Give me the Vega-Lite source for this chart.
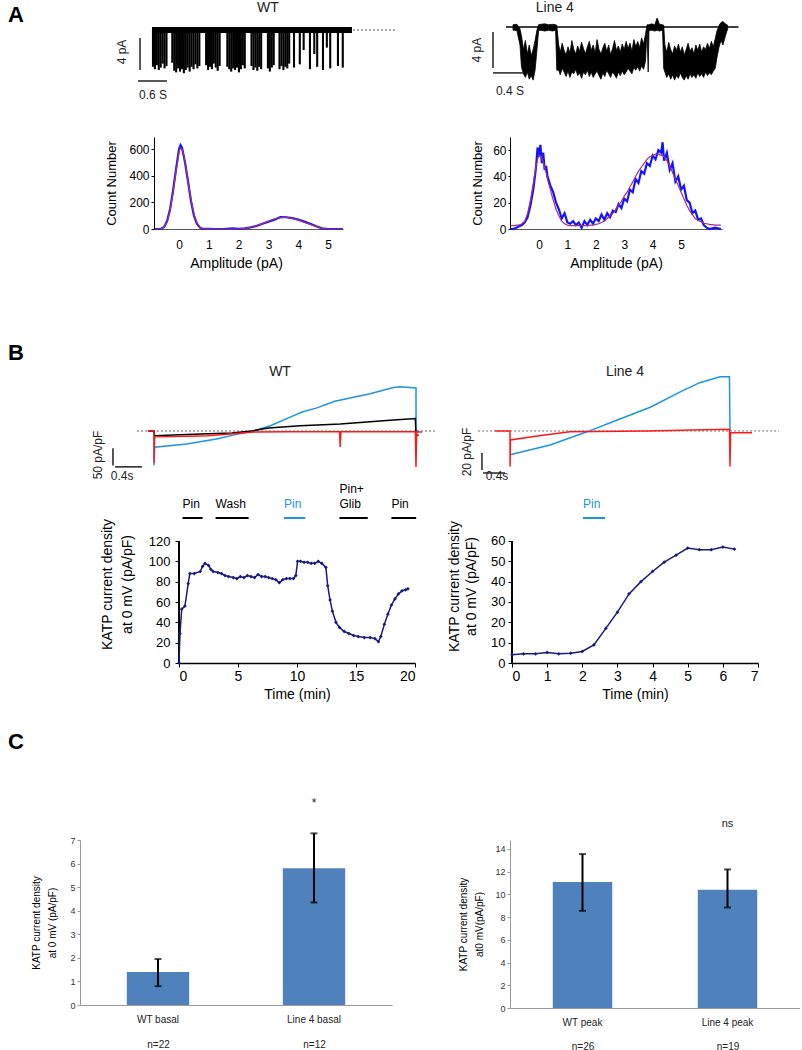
{
"$schema": "https://vega.github.io/schema/vega-lite/v6.json",
"padding": 0,
"background": "white",
"config": {
  "font": "Liberation Sans",
  "view": {"stroke": null},
  "axis": {"grid": false, "labelOverlap": false, "titleFontWeight": "normal", "labelColor": "#000", "titleColor": "#000", "domainColor": "#000", "tickColor": "#000"}
},
"datasets": {
  "aWtEvents": [
    {"t":0.02,"i":-4.6},{"t":0.06,"i":-4.9},{"t":0.10,"i":-4.4},{"t":0.14,"i":-5.0},{"t":0.18,"i":-4.7},{"t":0.22,"i":-4.2},{"t":0.26,"i":-4.8},{"t":0.30,"i":-4.5},
    {"t":0.42,"i":-4.1},{"t":0.46,"i":-5.1},{"t":0.50,"i":-5.3},{"t":0.54,"i":-4.8},{"t":0.58,"i":-5.2},{"t":0.62,"i":-4.9},{"t":0.66,"i":-5.4},{"t":0.70,"i":-5.0},{"t":0.74,"i":-4.7},{"t":0.78,"i":-5.2},{"t":0.82,"i":-4.6},{"t":0.86,"i":-4.9},{"t":0.90,"i":-4.3},{"t":0.94,"i":-4.8},{"t":0.98,"i":-4.5},
    {"t":1.12,"i":-4.4},{"t":1.16,"i":-5.0},{"t":1.20,"i":-4.6},{"t":1.24,"i":-4.9},{"t":1.28,"i":-4.2},{"t":1.32,"i":-4.7},{"t":1.36,"i":-5.1},{"t":1.40,"i":-4.5},
    {"t":1.56,"i":-4.6},{"t":1.60,"i":-4.9},{"t":1.64,"i":-5.2},{"t":1.68,"i":-4.8},{"t":1.72,"i":-5.0},{"t":1.76,"i":-4.7},{"t":1.80,"i":-5.3},{"t":1.84,"i":-4.9},{"t":1.88,"i":-4.4},{"t":1.92,"i":-4.8},
    {"t":2.06,"i":-4.5},{"t":2.10,"i":-5.0},{"t":2.14,"i":-4.7},{"t":2.18,"i":-5.1},{"t":2.22,"i":-4.6},{"t":2.26,"i":-4.9},
    {"t":2.40,"i":-4.8},{"t":2.44,"i":-5.2},{"t":2.48,"i":-4.7},{"t":2.52,"i":-4.4},
    {"t":2.64,"i":-4.9},{"t":2.68,"i":-4.5},{"t":2.72,"i":-5.0},{"t":2.76,"i":-4.6},{"t":2.80,"i":-4.8},{"t":2.84,"i":-4.2},
    {"t":2.94,"i":-4.7},{"t":3.06,"i":-4.3},{"t":3.14,"i":-2.5},{"t":3.27,"i":-4.9},{"t":3.36,"i":-3.0},{"t":3.42,"i":-4.6},{"t":3.54,"i":-5.0},{"t":3.62,"i":-2.2},{"t":3.69,"i":-4.8},{"t":3.85,"i":-4.5},{"t":3.95,"i":-4.7}
  ],
  "aL4Trace": [
    {"t":0.09,"top":0.25,"bot":-0.35},{"t":0.14,"top":0.3,"bot":-0.4},{"t":0.18,"top":-0.2,"bot":-2.0},
    {"t":0.20,"top":-1.0,"bot":-4.5},{"t":0.225,"top":-2.5,"bot":-5.2},{"t":0.25,"top":-1.5,"bot":-5.6},{"t":0.275,"top":-3.0,"bot":-5.0},{"t":0.30,"top":-2.0,"bot":-5.8},{"t":0.325,"top":-3.2,"bot":-5.4},{"t":0.35,"top":-2.5,"bot":-5.9},{"t":0.375,"top":-1.5,"bot":-4.8},{"t":0.40,"top":-0.3,"bot":-2.5},
    {"t":0.42,"top":0.25,"bot":-0.4},{"t":0.45,"top":0.3,"bot":-0.35},{"t":0.50,"top":0.35,"bot":-0.45},{"t":0.55,"top":0.25,"bot":-0.35},{"t":0.60,"top":0.3,"bot":-0.45},{"t":0.64,"top":0.25,"bot":-0.35},
    {"t":0.655,"top":0.2,"bot":-4.8},{"t":0.68,"top":-2.0,"bot":-4.8},{"t":0.70,"top":-2.8,"bot":-5.3},{"t":0.725,"top":-1.8,"bot":-4.6},{"t":0.75,"top":-2.6,"bot":-5.0},{"t":0.775,"top":-3.1,"bot":-5.5},{"t":0.80,"top":-2.2,"bot":-4.9},{"t":0.825,"top":-2.9,"bot":-5.6},{"t":0.85,"top":-1.5,"bot":-5.0},{"t":0.875,"top":-2.5,"bot":-5.2},{"t":0.90,"top":-3.0,"bot":-4.7},{"t":0.925,"top":-2.1,"bot":-5.4},{"t":0.95,"top":-2.7,"bot":-5.1},{"t":0.975,"top":-1.7,"bot":-5.7},{"t":1.00,"top":-2.4,"bot":-5.0},{"t":1.025,"top":-3.0,"bot":-5.3},{"t":1.05,"top":-2.2,"bot":-4.8},{"t":1.075,"top":-1.6,"bot":-5.5},{"t":1.10,"top":-2.6,"bot":-5.0},{"t":1.125,"top":-2.0,"bot":-5.6},{"t":1.15,"top":-2.9,"bot":-5.2},{"t":1.175,"top":-1.4,"bot":-4.9},{"t":1.20,"top":-2.5,"bot":-5.4},{"t":1.225,"top":-3.0,"bot":-5.8},{"t":1.25,"top":-2.3,"bot":-5.1},{"t":1.275,"top":-1.8,"bot":-5.5},{"t":1.30,"top":-2.7,"bot":-4.8},{"t":1.325,"top":-2.0,"bot":-5.2},{"t":1.35,"top":-3.1,"bot":-5.6},{"t":1.375,"top":-2.4,"bot":-5.0},{"t":1.40,"top":-1.5,"bot":-5.3},{"t":1.425,"top":-2.6,"bot":-5.7},{"t":1.45,"top":-2.1,"bot":-5.0},{"t":1.475,"top":-2.8,"bot":-5.4},{"t":1.50,"top":-1.9,"bot":-4.9},{"t":1.525,"top":-2.5,"bot":-5.3},{"t":1.55,"top":-1.6,"bot":-5.0},{"t":1.575,"top":-2.4,"bot":-4.6},{"t":1.60,"top":-1.8,"bot":-4.9},{"t":1.625,"top":-2.7,"bot":-5.2},{"t":1.65,"top":-1.4,"bot":-4.5},{"t":1.675,"top":-2.2,"bot":-4.8},{"t":1.70,"top":-1.6,"bot":-4.4},{"t":1.725,"top":-2.3,"bot":-4.9},{"t":1.75,"top":-1.2,"bot":-4.3},{"t":1.775,"top":-1.9,"bot":-4.7},{"t":1.80,"top":-0.8,"bot":-3.8},
    {"t":1.82,"top":0.25,"bot":-0.4},{"t":1.835,"top":0.25,"bot":-5.0},{"t":1.845,"top":0.25,"bot":-0.4},{"t":1.88,"top":0.35,"bot":-0.35},{"t":1.92,"top":0.25,"bot":-0.45},{"t":1.95,"top":1.0,"bot":-0.35},{"t":1.98,"top":0.3,"bot":-0.45},{"t":2.02,"top":0.25,"bot":-0.35},
    {"t":2.035,"top":0.2,"bot":-4.6},{"t":2.05,"top":-2.0,"bot":-5.0},{"t":2.075,"top":-2.8,"bot":-5.6},{"t":2.10,"top":-1.7,"bot":-5.2},{"t":2.125,"top":-2.5,"bot":-5.8},{"t":2.15,"top":-3.0,"bot":-5.3},{"t":2.175,"top":-2.1,"bot":-5.9},{"t":2.20,"top":-2.6,"bot":-5.4},{"t":2.225,"top":-1.9,"bot":-5.7},{"t":2.25,"top":-2.8,"bot":-5.1},{"t":2.275,"top":-2.2,"bot":-5.6},{"t":2.30,"top":-3.1,"bot":-5.9},{"t":2.325,"top":-2.5,"bot":-5.4},{"t":2.35,"top":-1.8,"bot":-5.8},{"t":2.375,"top":-2.7,"bot":-5.2},{"t":2.40,"top":-2.3,"bot":-5.6},{"t":2.425,"top":-3.0,"bot":-5.3},{"t":2.45,"top":-2.0,"bot":-5.7},{"t":2.475,"top":-2.6,"bot":-5.1},{"t":2.50,"top":-1.9,"bot":-5.5},{"t":2.525,"top":-2.8,"bot":-5.2},{"t":2.55,"top":-2.2,"bot":-5.6},{"t":2.575,"top":-2.5,"bot":-5.0},{"t":2.60,"top":-1.8,"bot":-5.4},{"t":2.625,"top":-2.4,"bot":-5.1},{"t":2.65,"top":-1.6,"bot":-5.3},{"t":2.675,"top":-2.2,"bot":-4.9},{"t":2.70,"top":-1.3,"bot":-4.6},{"t":2.72,"top":-0.5,"bot":-3.5},{"t":2.75,"top":0.2,"bot":-2.2},{"t":2.775,"top":0.5,"bot":-1.5},{"t":2.80,"top":0.6,"bot":-2.0},{"t":2.825,"top":0.4,"bot":-1.2},{"t":2.85,"top":0.25,"bot":-0.45},{"t":2.86,"top":0.2,"bot":-0.3}
  ],
  "aWtHist": [
    {"amp":-0.8,"count":0,"fit":0},{"amp":-0.6,"count":2,"fit":2},{"amp":-0.5,"count":15,"fit":12},{"amp":-0.4,"count":60,"fit":55},{"amp":-0.3,"count":150,"fit":140},{"amp":-0.2,"count":290,"fit":280},{"amp":-0.1,"count":450,"fit":440},{"amp":0.0,"count":600,"fit":580},{"amp":0.05,"count":630,"fit":610},{"amp":0.1,"count":610,"fit":600},{"amp":0.2,"count":500,"fit":510},{"amp":0.3,"count":360,"fit":360},{"amp":0.4,"count":210,"fit":220},{"amp":0.5,"count":100,"fit":110},{"amp":0.6,"count":40,"fit":45},{"amp":0.7,"count":10,"fit":12},{"amp":0.8,"count":2,"fit":3},{"amp":1.0,"count":2,"fit":0},{"amp":1.2,"count":0,"fit":0},{"amp":1.5,"count":0,"fit":0},{"amp":1.8,"count":5,"fit":0},{"amp":2.0,"count":2,"fit":2},{"amp":2.2,"count":5,"fit":5},{"amp":2.4,"count":12,"fit":12},{"amp":2.6,"count":22,"fit":25},{"amp":2.8,"count":40,"fit":40},{"amp":3.0,"count":55,"fit":58},{"amp":3.2,"count":70,"fit":75},{"amp":3.4,"count":90,"fit":86},{"amp":3.6,"count":88,"fit":88},{"amp":3.8,"count":82,"fit":80},{"amp":4.0,"count":70,"fit":68},{"amp":4.2,"count":55,"fit":50},{"amp":4.4,"count":40,"fit":35},{"amp":4.6,"count":20,"fit":18},{"amp":4.8,"count":5,"fit":5},{"amp":5.0,"count":0,"fit":0},{"amp":5.5,"count":0,"fit":0}
  ],
  "aL4Hist": [
    {"amp":-1.0,"count":0,"fit":2.5},{"amp":-0.9,"count":0,"fit":2.5},{"amp":-0.8,"count":1,"fit":3},{"amp":-0.7,"count":2,"fit":3},{"amp":-0.6,"count":3,"fit":4},{"amp":-0.5,"count":5,"fit":6},{"amp":-0.4,"count":9,"fit":12},{"amp":-0.3,"count":18,"fit":22},{"amp":-0.2,"count":30,"fit":35},{"amp":-0.1,"count":48,"fit":48},{"amp":-0.05,"count":62,"fit":53},{"amp":0.0,"count":55,"fit":56},{"amp":0.05,"count":64,"fit":56},{"amp":0.1,"count":50,"fit":54},{"amp":0.15,"count":58,"fit":51},{"amp":0.2,"count":45,"fit":47},{"amp":0.25,"count":48,"fit":43},{"amp":0.3,"count":40,"fit":38},{"amp":0.4,"count":33,"fit":30},{"amp":0.5,"count":28,"fit":22},{"amp":0.6,"count":20,"fit":15},{"amp":0.7,"count":15,"fit":10},{"amp":0.8,"count":8,"fit":6},{"amp":0.9,"count":12,"fit":4},{"amp":1.0,"count":5,"fit":3},{"amp":1.1,"count":4,"fit":2.5},{"amp":1.2,"count":6,"fit":2.5},{"amp":1.3,"count":3,"fit":2.5},{"amp":1.4,"count":5,"fit":2.5},{"amp":1.5,"count":1,"fit":2.5},{"amp":1.6,"count":6,"fit":2.5},{"amp":1.7,"count":3,"fit":2.5},{"amp":1.8,"count":7,"fit":3},{"amp":1.9,"count":4,"fit":3},{"amp":2.0,"count":8,"fit":3.5},{"amp":2.1,"count":6,"fit":4},{"amp":2.2,"count":11,"fit":5},{"amp":2.3,"count":7,"fit":6},{"amp":2.4,"count":12,"fit":8},{"amp":2.5,"count":9,"fit":10},{"amp":2.6,"count":14,"fit":12},{"amp":2.7,"count":13,"fit":15},{"amp":2.8,"count":19,"fit":18},{"amp":2.9,"count":16,"fit":21},{"amp":3.0,"count":23,"fit":25},{"amp":3.1,"count":21,"fit":28},{"amp":3.2,"count":30,"fit":32},{"amp":3.3,"count":28,"fit":36},{"amp":3.4,"count":38,"fit":40},{"amp":3.5,"count":35,"fit":44},{"amp":3.6,"count":44,"fit":47},{"amp":3.7,"count":42,"fit":50},{"amp":3.8,"count":50,"fit":53},{"amp":3.9,"count":48,"fit":55},{"amp":4.0,"count":56,"fit":56},{"amp":4.1,"count":53,"fit":57},{"amp":4.2,"count":60,"fit":57},{"amp":4.3,"count":58,"fit":56},{"amp":4.35,"count":66,"fit":56},{"amp":4.4,"count":52,"fit":55},{"amp":4.5,"count":58,"fit":52},{"amp":4.6,"count":45,"fit":48},{"amp":4.7,"count":50,"fit":43},{"amp":4.8,"count":36,"fit":38},{"amp":4.9,"count":40,"fit":33},{"amp":5.0,"count":30,"fit":28},{"amp":5.1,"count":33,"fit":23},{"amp":5.2,"count":22,"fit":18},{"amp":5.3,"count":20,"fit":14},{"amp":5.4,"count":12,"fit":11},{"amp":5.5,"count":14,"fit":8},{"amp":5.6,"count":7,"fit":6.5},{"amp":5.7,"count":8,"fit":5.5},{"amp":5.8,"count":3,"fit":4.5},{"amp":5.9,"count":1,"fit":4},{"amp":6.0,"count":0,"fit":3.5},{"amp":6.2,"count":1,"fit":3},{"amp":6.4,"count":0,"fit":3}
  ],
  "bWtRamps": [
    {"cond":"Pin","t":-0.09,"i":0},{"cond":"Pin","t":0,"i":0},{"cond":"Pin","t":0.001,"i":-99},{"cond":"Pin","t":0.008,"i":-47},{"cond":"Pin","t":0.49,"i":-38},{"cond":"Pin","t":0.94,"i":-23},{"cond":"Pin","t":1.19,"i":-12},{"cond":"Pin","t":1.49,"i":0},{"cond":"Pin","t":1.76,"i":16},{"cond":"Pin","t":2.09,"i":44},{"cond":"Pin","t":2.24,"i":56},{"cond":"Pin","t":2.45,"i":67},{"cond":"Pin","t":2.72,"i":86},{"cond":"Pin","t":3.0,"i":98},{"cond":"Pin","t":3.25,"i":108},{"cond":"Pin","t":3.6,"i":126},{"cond":"Pin","t":3.7,"i":128},{"cond":"Pin","t":3.94,"i":125},{"cond":"Pin","t":3.941,"i":0},{"cond":"Pin","t":3.98,"i":0},
    {"cond":"Wash","t":-0.09,"i":0},{"cond":"Wash","t":0,"i":0},{"cond":"Wash","t":0.008,"i":-14},{"cond":"Wash","t":0.7,"i":-9},{"cond":"Wash","t":1.17,"i":-6},{"cond":"Wash","t":1.47,"i":0},{"cond":"Wash","t":1.72,"i":9},{"cond":"Wash","t":2.2,"i":15},{"cond":"Wash","t":2.8,"i":20},{"cond":"Wash","t":3.2,"i":26},{"cond":"Wash","t":3.6,"i":32},{"cond":"Wash","t":3.93,"i":36},{"cond":"Wash","t":3.94,"i":-12},{"cond":"Wash","t":3.98,"i":-12},
    {"cond":"Basal","t":-0.09,"i":0},{"cond":"Basal","t":0,"i":0},{"cond":"Basal","t":0.001,"i":-93},{"cond":"Basal","t":0.008,"i":-17},{"cond":"Basal","t":0.5,"i":-15},{"cond":"Basal","t":0.8,"i":-14},{"cond":"Basal","t":1.2,"i":-8},{"cond":"Basal","t":1.5,"i":-3},{"cond":"Basal","t":2.0,"i":-2},{"cond":"Basal","t":2.79,"i":-2},{"cond":"Basal","t":2.8,"i":-46},{"cond":"Basal","t":2.81,"i":-2},{"cond":"Basal","t":3.5,"i":-2},{"cond":"Basal","t":3.93,"i":-2},{"cond":"Basal","t":3.94,"i":-104},{"cond":"Basal","t":3.95,"i":-3},{"cond":"Basal","t":4.03,"i":-3}
  ],
  "bL4Ramps": [
    {"cond":"Pin","t":0,"i":-28},{"cond":"Pin","t":0.73,"i":-16.5},{"cond":"Pin","t":1.4,"i":-1},{"cond":"Pin","t":1.95,"i":13},{"cond":"Pin","t":2.55,"i":28},{"cond":"Pin","t":3.15,"i":48},{"cond":"Pin","t":3.45,"i":57},{"cond":"Pin","t":3.82,"i":64},{"cond":"Pin","t":3.99,"i":64},{"cond":"Pin","t":4.0,"i":0},
    {"cond":"Basal","t":-0.27,"i":0},{"cond":"Basal","t":0,"i":0},{"cond":"Basal","t":0.001,"i":-42},{"cond":"Basal","t":0.008,"i":-10.6},{"cond":"Basal","t":0.5,"i":-6},{"cond":"Basal","t":1.09,"i":-1},{"cond":"Basal","t":2.5,"i":0},{"cond":"Basal","t":3.5,"i":1.5},{"cond":"Basal","t":3.99,"i":2},{"cond":"Basal","t":4.0,"i":-42},{"cond":"Basal","t":4.01,"i":-2},{"cond":"Basal","t":4.4,"i":-2}
  ],
  "bWtTime": [
    {"min":0,"dens":0},{"min":0.085,"dens":29},{"min":0.23,"dens":53},{"min":0.5,"dens":56},{"min":0.78,"dens":78},{"min":0.92,"dens":88},{"min":1.3,"dens":88},{"min":1.8,"dens":90},{"min":2.0,"dens":95},{"min":2.2,"dens":98},{"min":2.5,"dens":96},{"min":2.7,"dens":92},{"min":2.9,"dens":90},{"min":3.3,"dens":89},{"min":3.6,"dens":88},{"min":3.9,"dens":86},{"min":4.2,"dens":85},{"min":4.6,"dens":84},{"min":4.9,"dens":83},{"min":5.2,"dens":85},{"min":5.5,"dens":84},{"min":5.8,"dens":86},{"min":6.1,"dens":85},{"min":6.4,"dens":84},{"min":6.7,"dens":87},{"min":7.0,"dens":85},{"min":7.3,"dens":85},{"min":7.6,"dens":84},{"min":7.9,"dens":83},{"min":8.2,"dens":82},{"min":8.5,"dens":79},{"min":8.8,"dens":82},{"min":9.1,"dens":83},{"min":9.4,"dens":83},{"min":9.7,"dens":83},{"min":9.9,"dens":86},{"min":10.05,"dens":100},{"min":10.3,"dens":100},{"min":10.6,"dens":99},{"min":10.9,"dens":99},{"min":11.2,"dens":98},{"min":11.5,"dens":98},{"min":11.8,"dens":100},{"min":12.1,"dens":98},{"min":12.45,"dens":94},{"min":12.6,"dens":76},{"min":12.8,"dens":62},{"min":13.0,"dens":51},{"min":13.3,"dens":40},{"min":13.6,"dens":35},{"min":14.0,"dens":31},{"min":14.4,"dens":29},{"min":14.8,"dens":27},{"min":15.2,"dens":26},{"min":15.7,"dens":25},{"min":16.2,"dens":25},{"min":16.6,"dens":24},{"min":16.9,"dens":21},{"min":17.1,"dens":26},{"min":17.4,"dens":38},{"min":17.7,"dens":48},{"min":18.0,"dens":57},{"min":18.3,"dens":63},{"min":18.6,"dens":68},{"min":18.9,"dens":71},{"min":19.2,"dens":72},{"min":19.4,"dens":73}
  ],
  "bL4Time": [
    {"min":0,"dens":4},{"min":0.33,"dens":4.5},{"min":0.67,"dens":4.5},{"min":1.0,"dens":5.2},{"min":1.33,"dens":4.5},{"min":1.67,"dens":4.8},{"min":2.0,"dens":5.7},{"min":2.33,"dens":8.9},{"min":2.67,"dens":17},{"min":3.0,"dens":25},{"min":3.33,"dens":34},{"min":3.67,"dens":40},{"min":4.0,"dens":45},{"min":4.33,"dens":49.6},{"min":4.67,"dens":53},{"min":5.0,"dens":56.5},{"min":5.33,"dens":55.7},{"min":5.67,"dens":55.7},{"min":6.0,"dens":57},{"min":6.33,"dens":56}
  ],
  "bWtApp": [
    {"drug":"Pin","start":0.3,"end":2.0,"shown":"no"},
    {"drug":"Wash","start":3.1,"end":5.9,"shown":"no"},
    {"drug":"Pin","start":8.9,"end":10.7,"shown":"yes"},
    {"drug":"Pin+\nGlib","start":13.6,"end":16.0,"shown":"no"},
    {"drug":"Pin","start":18.0,"end":20.1,"shown":"no"}
  ],
  "bL4App": [
    {"drug":"Pin","start":2.02,"end":2.65,"shown":"yes"}
  ],
  "cBasal": [
    {"group":"WT basal","n":"n=22","mean":1.4,"lo":0.8,"hi":1.95,"sig":""},
    {"group":"Line 4 basal","n":"n=12","mean":5.8,"lo":4.35,"hi":7.28,"sig":"*"}
  ],
  "cPeak": [
    {"group":"WT peak","n":"n=26","mean":11.1,"lo":8.55,"hi":13.55,"sig":""},
    {"group":"Line 4 peak","n":"n=19","mean":10.4,"lo":8.85,"hi":12.2,"sig":"ns"}
  ],
  "sbAWt": [{"x1":-0.248,"x2":-0.248,"y1":-1,"y2":-5},{"x1":-0.29,"x2":0.31,"y1":-6.375,"y2":-6.375}],
  "sbAL4": [{"x1":-0.168,"x2":-0.168,"y1":-0.56,"y2":-4.56},{"x1":-0.168,"x2":0.232,"y1":-5.1,"y2":-5.1}],
  "sbBWt": [{"x1":-0.617,"x2":-0.617,"y1":-50,"y2":-100},{"x1":-0.586,"x2":-0.18,"y1":-104,"y2":-104}],
  "sbBL4": [{"x1":-0.51,"x2":-0.51,"y1":-26,"y2":-46},{"x1":-0.49,"x2":-0.09,"y1":-49.6,"y2":-49.6}]
},
"spacing": 0,
"resolve": {"scale": {"color": "independent"}},
"vconcat": [
  {"hconcat": [
    {"width": 100, "height": 137, "data": {"values": []}, "mark": "rule", "encoding": {},
     "title": {"text": "A", "anchor": "start", "offset": -27, "dx": 8, "fontSize": 22, "fontWeight": "bold"}},
    {"width": 340, "height": 137, "layer": [
      {"data": {"name": "aWtEvents"}, "mark": {"type": "rule", "strokeWidth": 2.1, "color": "#000"},
       "encoding": {
         "x": {"field": "t", "type": "quantitative", "scale": {"domain": [-1.077, 5.963], "nice": false, "zero": false}, "axis": null},
         "y": {"field": "i", "type": "quantitative", "scale": {"domain": [-13.375, 3.75], "nice": false, "zero": false}, "axis": null},
         "y2": {"datum": 0}}},
      {"data": {"values": [{}]}, "mark": {"type": "rule", "strokeWidth": 6, "color": "#000"},
       "encoding": {"x": {"datum": 0}, "x2": {"datum": 4.14}, "y": {"datum": 0}}},
      {"data": {"values": [{}]}, "mark": {"type": "rule", "strokeWidth": 1, "color": "#555", "strokeDash": [2, 2]},
       "encoding": {"x": {"datum": 4.16}, "x2": {"datum": 5.03}, "y": {"datum": 0}}},
      {"data": {"name": "sbAWt"}, "mark": {"type": "rule", "strokeWidth": 1.5, "color": "#222"},
       "encoding": {"x": {"field": "x1", "type": "quantitative"}, "x2": {"field": "x2"}, "y": {"field": "y1", "type": "quantitative"}, "y2": {"field": "y2"}}},
      {"data": {"values": [{}]}, "mark": {"type": "text", "angle": 270, "fontSize": 12, "color": "#222"},
       "encoding": {"x": {"datum": -0.62}, "y": {"datum": -2.75}, "text": {"value": "4 pA"}}},
      {"data": {"values": [{}]}, "mark": {"type": "text", "fontSize": 12, "color": "#222"},
       "encoding": {"x": {"datum": 0.02}, "y": {"datum": -8.1}, "text": {"value": "0.6 S"}}},
      {"data": {"values": [{}]}, "mark": {"type": "text", "fontSize": 14, "color": "#222"},
       "encoding": {"x": {"datum": 2.4}, "y": {"datum": 2.75}, "text": {"value": "WT"}}}
    ]},
    {"width": 350, "height": 137, "layer": [
      {"data": {"values": [{}]}, "mark": {"type": "rule", "strokeWidth": 1.5, "color": "#000"},
       "encoding": {
         "x": {"datum": 0, "type": "quantitative", "scale": {"domain": [-0.852, 3.665], "nice": false, "zero": false}, "axis": null},
         "x2": {"datum": 3.0},
         "y": {"datum": 0, "type": "quantitative", "scale": {"domain": [-12.22, 3.0], "nice": false, "zero": false}, "axis": null}}},
      {"data": {"name": "aL4Trace"}, "mark": {"type": "area", "color": "#000", "stroke": "#000", "strokeWidth": 0.8},
       "encoding": {"x": {"field": "t", "type": "quantitative"}, "y": {"field": "top", "type": "quantitative"}, "y2": {"field": "bot"}}},
      {"data": {"name": "sbAL4"}, "mark": {"type": "rule", "strokeWidth": 1.5, "color": "#222"},
       "encoding": {"x": {"field": "x1", "type": "quantitative"}, "x2": {"field": "x2"}, "y": {"field": "y1", "type": "quantitative"}, "y2": {"field": "y2"}}},
      {"data": {"values": [{}]}, "mark": {"type": "text", "angle": 270, "fontSize": 12, "color": "#222"},
       "encoding": {"x": {"datum": -0.374}, "y": {"datum": -2.56}, "text": {"value": "4 pA"}}},
      {"data": {"values": [{}]}, "mark": {"type": "text", "fontSize": 12, "color": "#222"},
       "encoding": {"x": {"datum": 0.05}, "y": {"datum": -7.1}, "text": {"value": "0.4 S"}}},
      {"data": {"values": [{}]}, "mark": {"type": "text", "fontSize": 14, "color": "#222"},
       "encoding": {"x": {"datum": 0.63}, "y": {"datum": 2.1}, "text": {"value": "Line 4"}}}
    ]}
  ], "spacing": 0, "bounds": "flush"},

  {"hconcat": [
    {"width": 154, "height": 150, "data": {"values": []}, "mark": "rule", "encoding": {}},
    {"width": 189, "height": 92, "data": {"name": "aWtHist"}, "layer": [
      {"mark": {"type": "line", "color": "#1414ff", "strokeWidth": 2.2},
       "encoding": {
         "x": {"field": "amp", "type": "quantitative", "scale": {"domain": [-0.84, 5.5], "nice": false, "zero": false},
               "axis": {"values": [0, 1, 2, 3, 4, 5], "tickCount": 20, "format": "d", "labelOverlap": false, "title": "Amplitude (pA)", "ticks": false, "labelPadding": 10, "labelFontSize": 12, "titleFontSize": 14, "titlePadding": 6, "domainColor": "#555", "titleX": 82}},
         "y": {"field": "count", "type": "quantitative", "scale": {"domain": [0, 690], "nice": false},
               "axis": {"values": [0, 200, 400, 600], "tickCount": 20, "format": "d", "labelOverlap": false, "title": "Count Number", "tickSize": 3, "labelFontSize": 12, "titleFontSize": 13, "titlePadding": 10}}}},
      {"mark": {"type": "line", "color": "#a3307f", "strokeWidth": 1.2},
       "encoding": {"x": {"field": "amp", "type": "quantitative"}, "y": {"field": "fit", "type": "quantitative"}}}
    ]},
    {"width": 167, "height": 1, "data": {"values": []}, "mark": "rule", "encoding": {}},
    {"width": 212, "height": 92, "data": {"name": "aL4Hist"}, "layer": [
      {"mark": {"type": "line", "color": "#1414ff", "strokeWidth": 2.2},
       "encoding": {
         "x": {"field": "amp", "type": "quantitative", "scale": {"domain": [-1.02, 6.44], "nice": false, "zero": false},
               "axis": {"values": [0, 1, 2, 3, 4, 5], "tickCount": 20, "format": "d", "labelOverlap": false, "title": "Amplitude (pA)", "ticks": false, "labelPadding": 10, "labelFontSize": 12, "titleFontSize": 14, "titlePadding": 6, "domainColor": "#555"}},
         "y": {"field": "count", "type": "quantitative", "scale": {"domain": [0, 70], "nice": false},
               "axis": {"values": [0, 20, 40, 60], "tickCount": 20, "format": "d", "labelOverlap": false, "title": "Count Number", "tickSize": 2, "labelFontSize": 12, "titleFontSize": 13, "titlePadding": 8}}}},
      {"mark": {"type": "line", "color": "#a3307f", "strokeWidth": 1.2},
       "encoding": {"x": {"field": "amp", "type": "quantitative"}, "y": {"field": "fit", "type": "quantitative"}}}
    ]}
  ], "spacing": 0, "bounds": "flush"},

  {"hconcat": [
    {"width": 80, "height": 195, "data": {"values": []}, "mark": "rule", "encoding": {},
     "title": {"text": "B", "anchor": "start", "offset": -78, "dx": 8, "fontSize": 22, "fontWeight": "bold"}},
    {"width": 360, "height": 195, "layer": [
      {"data": {"values": [{}]}, "mark": {"type": "rule", "strokeWidth": 1, "color": "#666", "strokeDash": [2, 2]},
       "encoding": {
         "x": {"datum": -0.256, "type": "quantitative", "scale": {"domain": [-1.113, 4.301], "nice": false, "zero": false}, "axis": null},
         "x2": {"datum": 4.23},
         "y": {"datum": 0, "type": "quantitative", "scale": {"domain": [-147.9, 417.6], "nice": false, "zero": false}, "axis": null}}},
      {"data": {"name": "bWtRamps"}, "mark": {"type": "line", "strokeWidth": 1.5},
       "encoding": {"x": {"field": "t", "type": "quantitative"}, "y": {"field": "i", "type": "quantitative"},
         "color": {"field": "cond", "type": "nominal", "scale": {"domain": ["Pin", "Wash", "Basal"], "range": ["#1c94e0", "#000000", "#ff1a1a"]}, "legend": null}}},
      {"data": {"name": "sbBWt"}, "mark": {"type": "rule", "strokeWidth": 1.5, "color": "#222"},
       "encoding": {"x": {"field": "x1", "type": "quantitative"}, "x2": {"field": "x2"}, "y": {"field": "y1", "type": "quantitative"}, "y2": {"field": "y2"}}},
      {"data": {"values": [{}]}, "mark": {"type": "text", "angle": 270, "fontSize": 12, "color": "#222"},
       "encoding": {"x": {"datum": -0.84}, "y": {"datum": -69.6}, "text": {"value": "50 pA/pF"}}},
      {"data": {"values": [{}]}, "mark": {"type": "text", "fontSize": 12, "color": "#222"},
       "encoding": {"x": {"datum": -0.48}, "y": {"datum": -130.5}, "text": {"value": "0.4s"}}},
      {"data": {"values": [{}]}, "mark": {"type": "text", "fontSize": 14, "color": "#222"},
       "encoding": {"x": {"datum": 1.895}, "y": {"datum": 171}, "text": {"value": "WT"}}}
    ]},
    {"width": 350, "height": 195, "layer": [
      {"data": {"values": [{}]}, "mark": {"type": "rule", "strokeWidth": 1, "color": "#666", "strokeDash": [2, 2]},
       "encoding": {
         "x": {"datum": -0.58, "type": "quantitative", "scale": {"domain": [-1.273, 5.091], "nice": false, "zero": false}, "axis": null},
         "x2": {"datum": 4.89},
         "y": {"datum": 0, "type": "quantitative", "scale": {"domain": [-60.2, 169.9], "nice": false, "zero": false}, "axis": null}}},
      {"data": {"name": "bL4Ramps"}, "mark": {"type": "line", "strokeWidth": 1.5},
       "encoding": {"x": {"field": "t", "type": "quantitative"}, "y": {"field": "i", "type": "quantitative"},
         "color": {"field": "cond", "type": "nominal", "scale": {"domain": ["Pin", "Basal"], "range": ["#1c94e0", "#ff1a1a"]}, "legend": null}}},
      {"data": {"name": "sbBL4"}, "mark": {"type": "rule", "strokeWidth": 1.5, "color": "#222"},
       "encoding": {"x": {"field": "x1", "type": "quantitative"}, "x2": {"field": "x2"}, "y": {"field": "y1", "type": "quantitative"}, "y2": {"field": "y2"}}},
      {"data": {"values": [{}]}, "mark": {"type": "text", "angle": 270, "fontSize": 12, "color": "#222"},
       "encoding": {"x": {"datum": -0.78}, "y": {"datum": -24.8}, "text": {"value": "20 pA/pF"}}},
      {"data": {"values": [{}]}, "mark": {"type": "text", "fontSize": 12, "color": "#222"},
       "encoding": {"x": {"datum": -0.236}, "y": {"datum": -53.1}, "text": {"value": "0.4s"}}},
      {"data": {"values": [{}]}, "mark": {"type": "text", "fontSize": 14, "color": "#222"},
       "encoding": {"x": {"datum": 2.09}, "y": {"datum": 69.6}, "text": {"value": "Line 4"}}}
    ]}
  ], "spacing": 0, "bounds": "flush", "resolve": {"scale": {"color": "independent"}}},

  {"hconcat": [
    {"width": 179, "height": 314, "data": {"values": []}, "mark": "rule", "encoding": {},
     "title": {"text": "C", "anchor": "start", "offset": -271, "dx": 8, "fontSize": 22, "fontWeight": "bold"}},
    {"width": 236, "height": 180, "layer": [
      {"data": {"values": [{}]}, "mark": {"type": "rule", "strokeWidth": 2, "color": "#000"},
       "encoding": {"x": {"datum": 0}, "y": {"datum": 0}, "y2": {"datum": 120}}},
      {"data": {"name": "bWtTime"}, "mark": {"type": "line", "color": "#1a1a80", "strokeWidth": 1.5, "point": {"shape": "diamond", "size": 14, "filled": true, "color": "#1a1a80"}},
       "encoding": {
         "x": {"field": "min", "type": "quantitative", "scale": {"domain": [0, 20], "nice": false},
               "axis": {"values": [0, 5, 10, 15, 20], "tickCount": 20, "format": "d", "labelOverlap": false, "title": "Time (min)", "tickSize": 4, "labelFontSize": 14, "titleFontSize": 14, "titlePadding": 4, "domainWidth": 1.5}},
         "y": {"field": "dens", "type": "quantitative", "scale": {"domain": [0, 177.05], "nice": false},
               "axis": {"values": [0, 20, 40, 60, 80, 100, 120], "tickCount": 20, "format": "d", "labelOverlap": false, "domain": false, "title": ["KATP current density", "at 0 mV (pA/pF)"], "tickSize": 4, "labelPadding": 5, "labelFontSize": 13, "titleFontSize": 14, "titlePadding": 14, "titleLineHeight": 20, "titleY": 101}}}},
      {"data": {"name": "bWtApp"}, "mark": {"type": "rule", "strokeWidth": 2},
       "encoding": {"x": {"field": "start", "type": "quantitative"}, "x2": {"field": "end"}, "y": {"datum": 142.6},
         "color": {"field": "shown", "type": "nominal", "scale": {"domain": ["no", "yes"], "range": ["#000000", "#1c94e0"]}, "legend": null}}},
      {"data": {"name": "bWtApp"}, "transform": [{"filter": {"field": "drug", "oneOf": ["Pin", "Wash"]}}],
       "mark": {"type": "text", "align": "left", "baseline": "bottom", "fontSize": 12},
       "encoding": {"x": {"field": "start", "type": "quantitative"}, "y": {"datum": 149.5}, "text": {"field": "drug"},
         "color": {"field": "shown", "type": "nominal", "legend": null}}},
      {"data": {"name": "bWtApp"}, "transform": [{"filter": {"field": "drug", "oneOf": ["Pin+\nGlib"]}}],
       "mark": {"type": "text", "align": "left", "baseline": "bottom", "fontSize": 12, "lineBreak": "\n", "lineHeight": 15},
       "encoding": {"x": {"field": "start", "type": "quantitative"}, "y": {"datum": 164.3}, "text": {"field": "drug"},
         "color": {"field": "shown", "type": "nominal", "legend": null}}}
    ]},
    {"width": 97, "height": 1, "data": {"values": []}, "mark": "rule", "encoding": {}},
    {"width": 246, "height": 180, "layer": [
      {"data": {"values": [{}]}, "mark": {"type": "rule", "strokeWidth": 2, "color": "#000"},
       "encoding": {"x": {"datum": 0}, "y": {"datum": 0}, "y2": {"datum": 60}}},
      {"data": {"name": "bL4Time"}, "mark": {"type": "line", "color": "#1a1a80", "strokeWidth": 1.5, "point": {"shape": "diamond", "size": 14, "filled": true, "color": "#1a1a80"}},
       "encoding": {
         "x": {"field": "min", "type": "quantitative", "scale": {"domain": [0, 7], "nice": false},
               "axis": {"values": [0, 1, 2, 3, 4, 5, 6, 7], "tickCount": 20, "format": "d", "labelOverlap": false, "title": "Time (min)", "tickSize": 4, "labelFontSize": 14, "titleFontSize": 14, "titlePadding": 4, "domainWidth": 1.5}},
         "y": {"field": "dens", "type": "quantitative", "scale": {"domain": [0, 88.52], "nice": false},
               "axis": {"values": [0, 10, 20, 30, 40, 50, 60], "tickCount": 20, "format": "d", "labelOverlap": false, "domain": false, "title": ["KATP current density", "at 0 mV (pA/pF)"], "tickSize": 4, "labelPadding": 3, "labelFontSize": 13, "titleFontSize": 14, "titlePadding": 12, "titleLineHeight": 17, "titleY": 103}}}},
      {"data": {"name": "bL4App"}, "mark": {"type": "rule", "strokeWidth": 2},
       "encoding": {"x": {"field": "start", "type": "quantitative"}, "x2": {"field": "end"}, "y": {"datum": 71.3},
         "color": {"field": "shown", "type": "nominal", "scale": {"domain": ["no", "yes"], "range": ["#000000", "#1c94e0"]}, "legend": null}}},
      {"data": {"name": "bL4App"}, "mark": {"type": "text", "align": "left", "baseline": "bottom", "fontSize": 12},
       "encoding": {"x": {"field": "start", "type": "quantitative"}, "y": {"datum": 74.8}, "text": {"field": "drug"},
         "color": {"field": "shown", "type": "nominal", "legend": null}}}
    ]}
  ], "spacing": 0, "bounds": "flush", "resolve": {"scale": {"color": "independent"}}},

  {"hconcat": [
    {"width": 80, "height": 165, "data": {"values": []}, "mark": "rule", "encoding": {}},
    {"width": 312, "height": 165, "data": {"name": "cBasal"},
     "layer": [
       {"layer": [
         {"mark": {"type": "bar", "color": "#4f81bd", "width": {"band": 0.4}},
          "encoding": {
            "x": {"field": "group", "type": "nominal", "sort": null, "scale": {"paddingInner": 0, "paddingOuter": 0},
                  "axis": {"title": null, "labelAngle": 0, "ticks": false, "labelFontSize": 10, "labelPadding": 9, "domainColor": "#999", "labelColor": "#222"}},
            "y": {"field": "mean", "type": "quantitative", "scale": {"domain": [0, 7], "nice": false},
                  "axis": {"values": [0, 1, 2, 3, 4, 5, 6, 7], "tickCount": 20, "format": "d", "labelOverlap": false, "title": ["KATP current density", "at 0 mV (pA/pF)"], "titleFontSize": 10, "labelFontSize": 9, "tickSize": 3, "domainColor": "#999", "tickColor": "#999", "labelColor": "#333", "titlePadding": 12, "titleLineHeight": 16}}}},
         {"mark": {"type": "rule", "strokeWidth": 2, "color": "#000"},
          "encoding": {"x": {"field": "group", "type": "nominal", "sort": null}, "y": {"field": "lo", "type": "quantitative"}, "y2": {"field": "hi"}}},
         {"mark": {"type": "tick", "thickness": 2, "size": 7, "color": "#000"},
          "encoding": {"x": {"field": "group", "type": "nominal", "sort": null}, "y": {"field": "lo", "type": "quantitative"}}},
         {"mark": {"type": "tick", "thickness": 2, "size": 7, "color": "#000"},
          "encoding": {"x": {"field": "group", "type": "nominal", "sort": null}, "y": {"field": "hi", "type": "quantitative"}}},
         {"mark": {"type": "text", "dy": -30, "fontSize": 12, "color": "#222"},
          "encoding": {"x": {"field": "group", "type": "nominal", "sort": null}, "y": {"field": "hi", "type": "quantitative"}, "text": {"field": "sig"}}}
       ]},
       {"mark": {"type": "text", "opacity": 0},
        "encoding": {"x": {"field": "n", "type": "nominal", "sort": null,
                           "axis": {"orient": "bottom", "title": null, "labelAngle": 0, "domain": false, "ticks": false, "labelPadding": 34, "labelFontSize": 10, "labelColor": "#222"}},
                     "text": {"value": ""}}}
     ],
     "resolve": {"scale": {"x": "independent"}, "axis": {"x": "independent"}}},
    {"width": 118, "height": 1, "data": {"values": []}, "mark": "rule", "encoding": {}},
    {"width": 290, "height": 168, "data": {"name": "cPeak"},
     "layer": [
       {"layer": [
         {"mark": {"type": "bar", "color": "#4f81bd", "width": {"band": 0.41}},
          "encoding": {
            "x": {"field": "group", "type": "nominal", "sort": null, "scale": {"paddingInner": 0, "paddingOuter": 0},
                  "axis": {"title": null, "labelAngle": 0, "ticks": false, "labelFontSize": 10, "labelPadding": 9, "domainColor": "#999", "labelColor": "#222"}},
            "y": {"field": "mean", "type": "quantitative", "scale": {"domain": [0, 14.79], "nice": false},
                  "axis": {"values": [0, 2, 4, 6, 8, 10, 12, 14], "tickCount": 20, "format": "d", "labelOverlap": false, "title": ["KATP current density", "at0 mV(pA/pF)"], "titleFontSize": 10, "labelFontSize": 9, "tickSize": 3, "domainColor": "#999", "tickColor": "#999", "labelColor": "#333", "titlePadding": 10, "titleLineHeight": 16}}}},
         {"mark": {"type": "rule", "strokeWidth": 2, "color": "#000"},
          "encoding": {"x": {"field": "group", "type": "nominal", "sort": null}, "y": {"field": "lo", "type": "quantitative"}, "y2": {"field": "hi"}}},
         {"mark": {"type": "tick", "thickness": 2, "size": 7, "color": "#000"},
          "encoding": {"x": {"field": "group", "type": "nominal", "sort": null}, "y": {"field": "lo", "type": "quantitative"}}},
         {"mark": {"type": "tick", "thickness": 2, "size": 7, "color": "#000"},
          "encoding": {"x": {"field": "group", "type": "nominal", "sort": null}, "y": {"field": "hi", "type": "quantitative"}}},
         {"mark": {"type": "text", "dy": -45, "fontSize": 11, "color": "#222"},
          "encoding": {"x": {"field": "group", "type": "nominal", "sort": null}, "y": {"field": "hi", "type": "quantitative"}, "text": {"field": "sig"}}}
       ]},
       {"mark": {"type": "text", "opacity": 0},
        "encoding": {"x": {"field": "n", "type": "nominal", "sort": null,
                           "axis": {"orient": "bottom", "title": null, "labelAngle": 0, "domain": false, "ticks": false, "labelPadding": 33, "labelFontSize": 10, "labelColor": "#222"}},
                     "text": {"value": ""}}}
     ],
     "resolve": {"scale": {"x": "independent"}, "axis": {"x": "independent"}}}
  ], "spacing": 0, "bounds": "flush"}
]
}
